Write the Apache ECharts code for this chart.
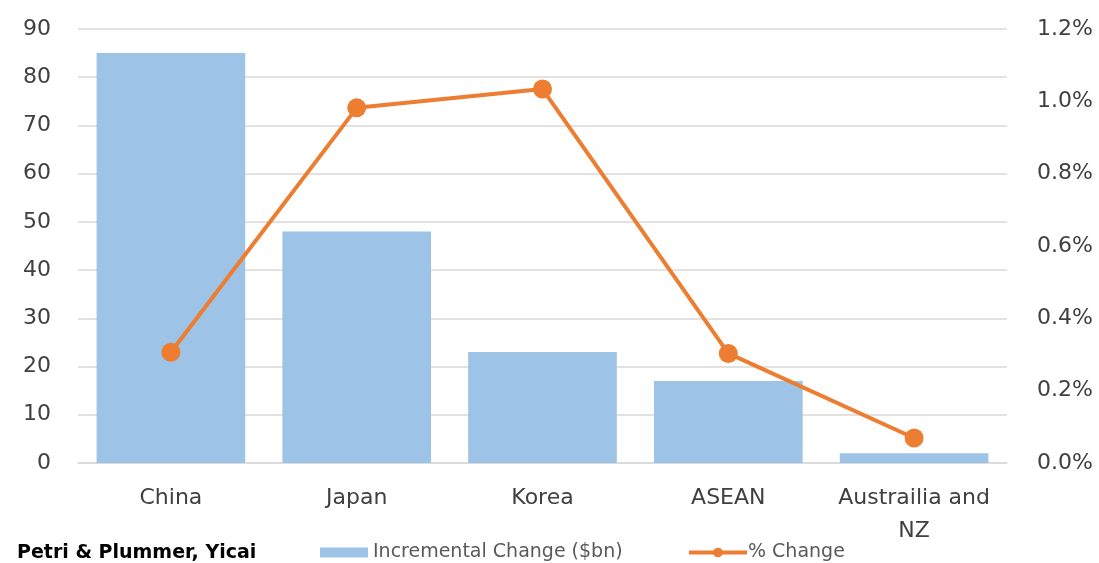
<!DOCTYPE html>
<html><head><meta charset="utf-8">
<script src="https://cdn.jsdelivr.net/npm/echarts@6/dist/echarts.min.js"></script>
<style>html,body{margin:0;padding:0;background:#fff}#c{width:1099px;height:563px}</style>
</head><body><div id="c"></div>
<script>
const categories = ['China', 'Japan', 'Korea', 'ASEAN', 'Austrailia and\nNZ'];
const incrementalChange = [85, 48, 23, 17, 2];
const pctChange = [0.306, 0.982, 1.034, 0.303, 0.069];
const leftTicks = [0, 10, 20, 30, 40, 50, 60, 70, 80, 90];
const rightTicks = [0, 0.2, 0.4, 0.6, 0.8, 1.0, 1.2];

const FONT = 'DejaVu Sans';
const chart = echarts.init(document.getElementById('c'));
chart.setOption({
  animation: false,
  textStyle: { fontFamily: FONT },
  title: {
    text: 'Petri & Plummer, Yicai', left: 12, top: 539,
    textStyle: { fontFamily: FONT, fontSize: 19, fontWeight: 'bold', color: '#000' }
  },
  legend: [
    {
      left: 315, top: 538, itemWidth: 48, itemHeight: 10,
      textStyle: { fontFamily: FONT, fontSize: 19, color: '#595959' },
      data: [{ name: 'Incremental Change ($bn)', icon: 'rect' }]
    },
    {
      left: 682, top: 538, itemWidth: 58, itemHeight: 12,
      lineStyle: { width: 4, color: '#ED7D31' },
      textStyle: { fontFamily: FONT, fontSize: 19, color: '#595959', padding: [0, 0, 0, -4] },
      data: [{ name: '% Change' }]
    }
  ],
  grid: { left: 78, right: 92, top: 29, bottom: 100 },
  xAxis: {
    type: 'category', data: categories,
    axisLine: { lineStyle: { color: '#d9d9d9', width: 1.5 } },
    axisTick: { show: false },
    axisLabel: { interval: 0, fontSize: 22, color: '#404040', margin: 19, lineHeight: 33, fontFamily: FONT }
  },
  yAxis: [
    {
      type: 'value', min: leftTicks[0], max: leftTicks[leftTicks.length - 1], interval: 10,
      axisLabel: { fontSize: 22, color: '#404040', margin: 27, fontFamily: FONT },
      splitLine: { lineStyle: { color: '#d9d9d9', width: 1.5 } },
      axisLine: { show: false }, axisTick: { show: false }
    },
    {
      type: 'value', min: rightTicks[0], max: rightTicks[rightTicks.length - 1], interval: 0.2,
      axisLabel: { fontSize: 22, color: '#404040', margin: 30, fontFamily: FONT,
        formatter: v => v.toFixed(1) + '%' },
      splitLine: { show: false }, axisLine: { show: false }, axisTick: { show: false }
    }
  ],
  series: [
    {
      name: 'Incremental Change ($bn)', type: 'bar', data: incrementalChange,
      barCategoryGap: '20%', itemStyle: { color: '#9DC3E6' }
    },
    {
      name: '% Change', type: 'line', yAxisIndex: 1, data: pctChange,
      symbol: 'circle', symbolSize: 19,
      lineStyle: { color: '#ED7D31', width: 4 },
      itemStyle: { color: '#ED7D31' }
    }
  ]
});
</script>
</body></html>
